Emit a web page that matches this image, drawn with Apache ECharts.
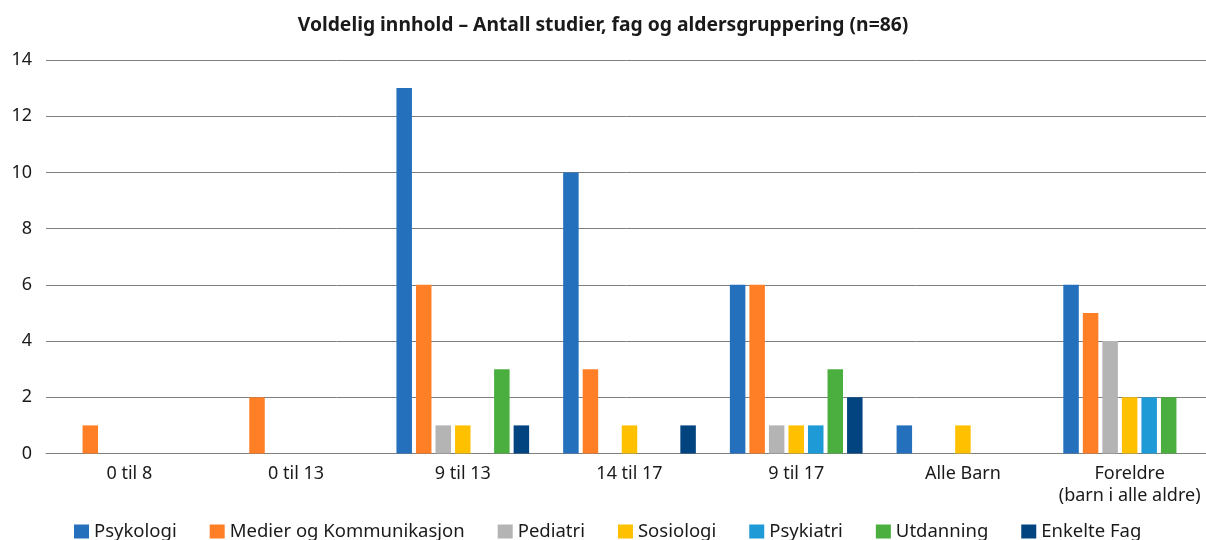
<!DOCTYPE html>
<html>
<head>
<meta charset="utf-8">
<script src="https://cdn.jsdelivr.net/npm/echarts@6/dist/echarts.min.js"></script>
<style>
  html, body { margin: 0; padding: 0; background: #fff; }
  #chart { width: 1206px; height: 540px; }
</style>
</head>
<body>
<div id="chart"></div>
<script>
const categories = ['0 til 8', '0 til 13', '9 til 13', '14 til 17', '9 til 17', 'Alle Barn', 'Foreldre\n(barn i alle aldre)'];
const seriesNames = ['Psykologi', 'Medier og Kommunikasjon', 'Pediatri', 'Sosiologi', 'Psykiatri', 'Utdanning', 'Enkelte Fag'];
const colors = ['#2470bd', '#ff7f27', '#b4b4b4', '#ffc000', '#1e9bd7', '#4aaf3e', '#024480'];

const psykologi = [0, 0, 13, 10, 6, 1, 6];
const medier = [1, 2, 6, 3, 6, 0, 5];
const pediatri = [0, 0, 1, 0, 1, 0, 4];
const sosiologi = [0, 0, 1, 1, 1, 1, 2];
const psykiatri = [0, 0, 0, 0, 1, 0, 2];
const utdanning = [0, 0, 3, 0, 3, 0, 2];
const enkelteFag = [0, 0, 1, 1, 2, 0, 0];

const allValues = [psykologi, medier, pediatri, sosiologi, psykiatri, utdanning, enkelteFag];
const font = 'Noto Sans';

const chart = echarts.init(document.getElementById('chart'));
chart.setOption({
    animation: false,
    title: {
        text: 'Voldelig innhold – Antall studier, fag og aldersgruppering (n=86)',
        left: 'center',
        top: 11,
        textStyle: { fontFamily: font, fontWeight: 'bold', fontSize: 19.3, color: '#1a1a1a' }
    },
    legend: {
        left: 69,
        top: 517,
        itemWidth: 15,
        itemHeight: 14,
        itemGap: 33,
        icon: 'rect',
        textStyle: { fontFamily: font, fontSize: 18.5, color: '#1a1a1a' },
        data: seriesNames
    },
    grid: { left: 46, width: 1167, top: 60, bottom: 86.5, containLabel: false, outerBoundsMode: 'none' },
    xAxis: {
        type: 'category',
        data: categories,
        axisTick: { show: false },
        axisLine: { lineStyle: { color: '#7f7f7f', width: 1 } },
        axisLabel: { interval: 0, fontFamily: font, fontSize: 18, color: '#1a1a1a', margin: 9, lineHeight: 22 }
    },
    yAxis: {
        type: 'value',
        min: 0,
        max: 14,
        interval: 2,
        axisLine: { show: false },
        axisTick: { show: false },
        splitLine: { lineStyle: { color: '#7f7f7f', width: 1 } },
        axisLabel: { fontFamily: font, fontSize: 18, color: '#1a1a1a', margin: 14 }
    },
    series: seriesNames.map((name, i) => ({
        name: name,
        type: 'bar',
        data: allValues[i],
        barWidth: 15.5,
        barGap: '26%',
        itemStyle: { color: colors[i] }
    }))
});
</script>
</body>
</html>
